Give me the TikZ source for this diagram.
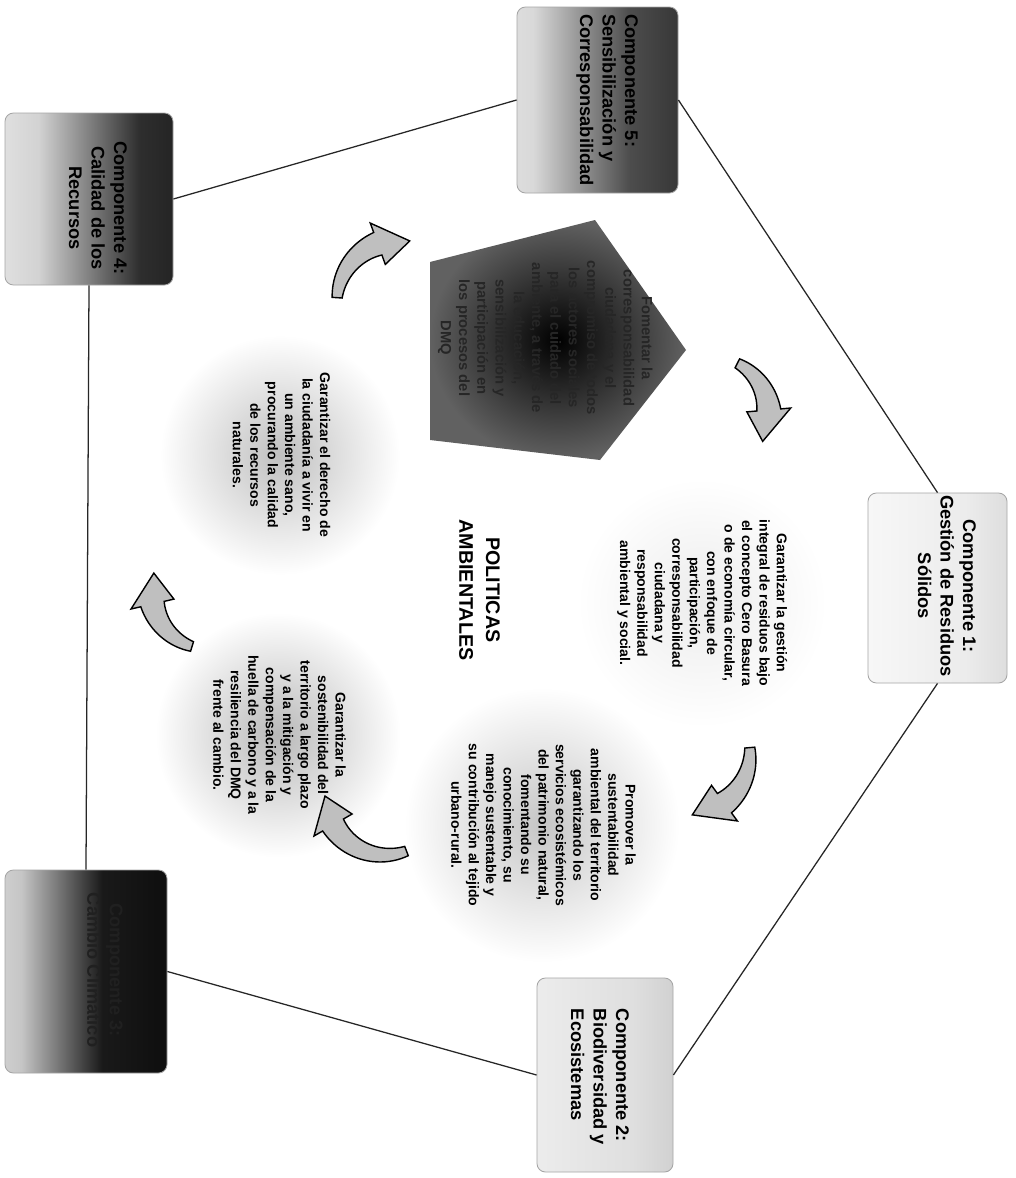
\documentclass[tikz,border=0pt]{standalone}
\usepackage{fontspec}
\setmainfont{Liberation Sans}
\usetikzlibrary{calc}
\pgfdeclarehorizontalshading{shCfive}{100bp}{color(0bp)=(gray!12); color(30bp)=(gray!30); color(60bp)=(black!70); color(100bp)=(black!92)}
\pgfdeclarehorizontalshading{shCfour}{100bp}{color(0bp)=(white); color(35bp)=(gray!35); color(65bp)=(black!82); color(100bp)=(black!95)}
\pgfdeclarehorizontalshading{shCone}{100bp}{color(0bp)=(white); color(60bp)=(gray!15); color(100bp)=(gray!45)}
\pgfdeclarehorizontalshading{shCthree}{100bp}{color(0bp)=(gray!8); color(30bp)=(gray!45); color(55bp)=(black!90); color(100bp)=(black)}
\pgfdeclarehorizontalshading{shCtwo}{100bp}{color(0bp)=(gray!8); color(60bp)=(gray!25); color(100bp)=(gray!55)}
% curved block arrow, pixel-style input (y down): cx, cy, R, tail angle, head-base angle, tip angle
\newcommand\bentarrow[6]{%
 \filldraw[arrowsty]
  plot[domain=#4:#5, samples=24, variable=\t] ({#1+(#3+5+7*(\t-(#4))/((#5)-(#4)))*cos(\t)},{-(#2+(#3+5+7*(\t-(#4))/((#5)-(#4)))*sin(\t))})
  -- ({#1+(#3+22)*cos(#5)},{-(#2+(#3+22)*sin(#5))})
  -- ({#1+#3*cos(#6)},{-(#2+#3*sin(#6))})
  -- ({#1+(#3-22)*cos(#5)},{-(#2+(#3-22)*sin(#5))})
  -- plot[domain=#5:#4, samples=24, variable=\t] ({#1+(#3-5-7*(\t-(#4))/((#5)-(#4)))*cos(\t)},{-(#2+(#3-5-7*(\t-(#4))/((#5)-(#4)))*sin(\t))})
  -- cycle;}
\tikzset{
 comp/.style={draw=gray!70, line width=0.6pt, rounded corners=6pt, inner sep=0pt, shading angle=0},
 comptext/.style={inner sep=0pt, font=\bfseries\fontsize{13}{16}\selectfont},
 blob/.style={circle, inner sep=0pt, outer color=white, font=\bfseries\fontsize{10}{12.4}\selectfont},
 link/.style={draw=black!85, line width=0.9pt},
 arrowsty/.style={draw=black, line width=1pt, fill=gray!50},
}
\begin{document}
\begin{tikzpicture}[x=0.025cm, y=0.025cm]
\useasboundingbox (0,0) rectangle (1015,-1178);
\fill[white] (0,0) rectangle (1015,-1178);

% component boxes
\node[comp, minimum width={161*0.025cm}, minimum height={186*0.025cm}, shading=shCfive] (c5) at (597.5,-100) {};
\node[comptext] (c5t) at (607,-100)
 {\rotatebox{-90}{\begin{tabular}{@{}l@{}}Componente 5:\\Sensibilización y\\Corresponsabilidad\end{tabular}}};
\node[comp, minimum width={168*0.025cm}, minimum height={172*0.025cm}, shading=shCfour] (c4) at (89,-199) {};
\node[comptext] (c4t) at (96,-208)
 {\rotatebox{-90}{\begin{tabular}{@{}c@{}}Componente 4:\\Calidad de los\\Recursos\end{tabular}}};
\node[comp, minimum width={139*0.025cm}, minimum height={190*0.025cm}, shading=shCone] (c1) at (937.5,-588) {};
\node[comptext] (c1t) at (945,-586)
 {\rotatebox{-90}{\begin{tabular}{@{}c@{}}Componente 1:\\Gestión de Residuos\\Sólidos\end{tabular}}};
\node[comp, minimum width={162*0.025cm}, minimum height={203*0.025cm}, shading=shCthree] (c3) at (86,-971.5) {};
\node[comptext, text=gray!25!black] (c3t) at (103,-970)
 {\rotatebox{-90}{\begin{tabular}{@{}c@{}}Componente 3:\\Cambio Climático\end{tabular}}};
\node[comp, minimum width={136*0.025cm}, minimum height={194*0.025cm}, shading=shCtwo] (c2) at (605,-1075) {};
\node[comptext] (c2t) at (598,-1077)
 {\rotatebox{-90}{\begin{tabular}{@{}l@{}}Componente 2:\\Biodiversidad y\\Ecosistemas\end{tabular}}};

% links
\draw[link] (c5.east) -- (c1.north);
\draw[link] (c1.south) -- (c2.east);
\draw[link] (c2.west) -- (c3.east);
\draw[link] (c3.north) -- (c4.south);
\draw[link] (c4.east) -- (c5.west);

% central pentagon
\shade[inner color=black, outer color=black!62] (430,-262) -- (595,-220) -- (686,-350) -- (600,-460) -- (430,-440) -- cycle;
\node[font=\bfseries\fontsize{10.5}{13}\selectfont, text=gray!30!black, inner sep=0pt] (pent) at (545,-338)
 {\rotatebox{-90}{\begin{tabular}{@{}c@{}}Fomentar la\\corresponsabilidad\\ciudadana y el\\compromiso de todos\\los actores sociales\\para el cuidado del\\ambiente, a través de\\la educación,\\sensibilización y\\participación en\\los procesos del\\DMQ\end{tabular}}};

% policy blobs
\node[blob, minimum size={250*0.025cm}, inner color=gray!15] (b1) at (702,-603)
 {\rotatebox{-90}{\begin{tabular}{@{}c@{}}Garantizar la gestión\\integral de residuos bajo\\el concepto Cero Basura\\o de economía circular,\\con enfoque de\\participación,\\corresponsabilidad\\ciudadana y\\responsabilidad\\ambiental y social.\end{tabular}}};
\node[blob, minimum size={275*0.025cm}, inner color=gray!45] (b2) at (542,-825)
 {\rotatebox{-90}{\begin{tabular}{@{}c@{}}Promover la\\sustentabilidad\\ambiental del territorio\\garantizando los\\servicios ecosistémicos\\del patrimonio natural,\\fomentando su\\conocimiento, su\\manejo sustentable y\\su contribución al tejido\\urbano-rural.\end{tabular}}};
\node[blob, minimum size={245*0.025cm}, inner color=gray!55] (b3) at (278,-735)
 {\rotatebox{-90}{\begin{tabular}{@{}c@{}}Garantizar la\\sostenibilidad del\\territorio a largo plazo\\y a la mitigación y\\compensación de la\\huella de carbono y a la\\resiliencia del DMQ\\frente al cambio.\end{tabular}}};
\node[blob, minimum size={240*0.025cm}, inner color=gray!50] (b4) at (280,-455)
 {\rotatebox{-90}{\begin{tabular}{@{}c@{}}Garantizar el derecho de\\la ciudadanía a vivir en\\un ambiente sano,\\procurando la calidad\\de los recursos\\naturales.\end{tabular}}};

\node[font=\bfseries\fontsize{14}{19}\selectfont, inner sep=0pt] (title) at (478,-590)
 {\rotatebox{-90}{\begin{tabular}{@{}c@{}}POLITICAS\\AMBIENTALES\end{tabular}}};

% curved arrows
\bentarrow{711}{415}{58}{-63}{-5}{27}
\bentarrow{688}{753}{62}{-5}{54}{86}
\bentarrow{385}{795}{60}{69}{150}{179}
\bentarrow{209}{591}{58}{107}{167}{198}
\bentarrow{399}{302}{62}{184}{250}{280}
\end{tikzpicture}
\end{document}
